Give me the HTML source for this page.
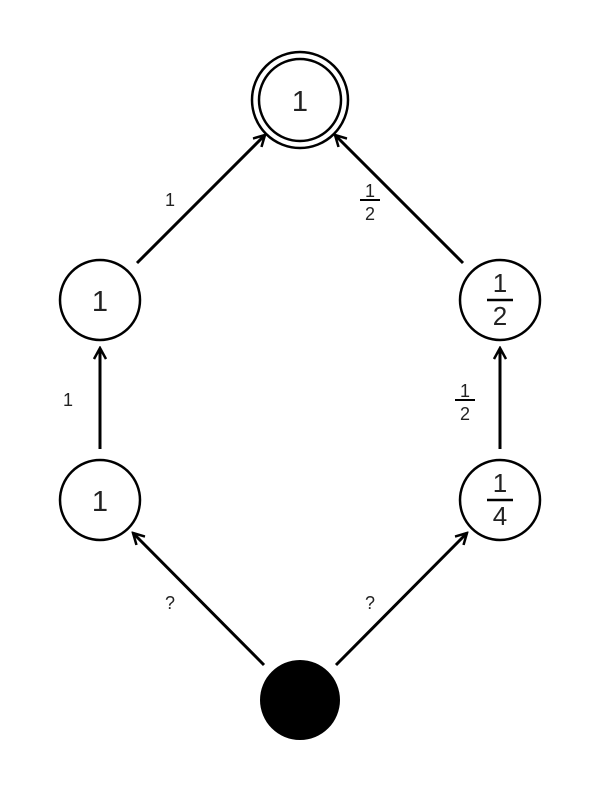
<!DOCTYPE html>
<html><head><style>body{margin:0;background:#fff}</style></head><body>
<svg width="600" height="800" xmlns="http://www.w3.org/2000/svg" font-family="Liberation Sans, sans-serif">
<defs><marker id="a" markerWidth="14" markerHeight="14" refX="12" refY="7" orient="auto" markerUnits="userSpaceOnUse"><path d="M1,1 L12,7 L1,13" fill="none" stroke="#000" stroke-width="2.5"/></marker></defs>
<g fill="none" stroke="#000" stroke-width="2.5">
<circle cx="300" cy="100" r="48"/><circle cx="300" cy="100" r="41"/>
<circle cx="100" cy="300" r="40"/><circle cx="500" cy="300" r="40"/>
<circle cx="100" cy="500" r="40"/><circle cx="500" cy="500" r="40"/>
<g stroke-width="3" marker-end="url(#a)">
<line x1="137" y1="263" x2="265" y2="135"/>
<line x1="463" y1="263" x2="335" y2="135"/>
<line x1="100" y1="449" x2="100" y2="348"/>
<line x1="500" y1="449" x2="500" y2="348"/>
<line x1="264" y1="665" x2="133" y2="533"/>
<line x1="336" y1="665" x2="467" y2="533"/>
</g>
<line x1="360" y1="200" x2="380" y2="200" stroke-width="2"/>
<line x1="455" y1="400" x2="475" y2="400" stroke-width="2"/>
<line x1="487" y1="300" x2="513" y2="300" stroke-width="2.5"/>
<line x1="487" y1="500" x2="513" y2="500" stroke-width="2.5"/>
</g>
<circle cx="300" cy="700" r="40" fill="#000"/>
<g font-size="29" text-anchor="middle" fill="#222">
<text x="300" y="111">1</text><text x="100" y="311">1</text><text x="100" y="511">1</text>
</g>
<g font-size="26" text-anchor="middle" fill="#222">
<text x="500" y="292">1</text><text x="500" y="325">2</text>
<text x="500" y="492">1</text><text x="500" y="525">4</text>
</g>
<g font-size="18" text-anchor="middle" fill="#222">
<text x="170" y="206">1</text><text x="370" y="197">1</text><text x="370" y="220">2</text>
<text x="68" y="406">1</text><text x="465" y="397">1</text><text x="465" y="420">2</text>
<text x="170" y="609">?</text><text x="370" y="609">?</text>
</g>
</svg>
</body></html>
